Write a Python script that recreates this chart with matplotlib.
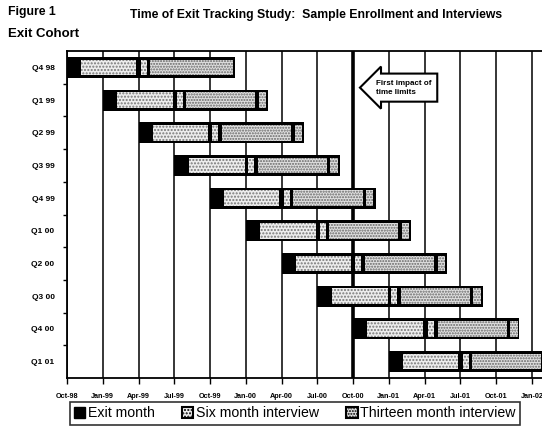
import matplotlib
matplotlib.use("Agg")
import matplotlib.pyplot as plt
from matplotlib.patches import Patch

# ---- data ----
cohorts = ['Q4 98', 'Q1 99', 'Q2 99', 'Q3 99', 'Q4 99',
           'Q1 00', 'Q2 00', 'Q3 00', 'Q4 00', 'Q1 01']
# cohort start, months since Oct-98
cohort_start = [0, 3, 6, 9, 12, 15, 18, 21, 24, 27]
# segment offsets / lengths in months relative to cohort start
exit_len = [1.1, 1.1, 1.1, 1.1, 1.1, 1.1, 1.1, 1.1, 1.1, 1.1]
six_off = [1.2, 1.2, 1.2, 1.2, 1.2, 1.2, 1.2, 1.2, 1.2, 1.2]
six_len = [4.6, 4.7, 4.6, 4.7, 4.6, 4.7, 4.6, 4.7, 4.7, 4.6]
six_b_off = [6.2, 6.2, 6.2, 6.2, 6.2, 6.2, 6.2, 6.2, 6.3, 6.2]
six_b_len = [0.5, 0.5, 0.5, 0.5, 0.5, 0.5, 0.5, 0.5, 0.5, 0.5]
thr_off = [7.0, 7.0, 7.0, 7.0, 7.0, 7.0, 7.0, 7.0, 7.1, 7.0]
thr_len = [6.9, 5.8, 5.8, 5.8, 5.8, 5.8, 5.8, 5.8, 5.8, 5.8]
thr_b_off = [13.9, 13.1, 13.1, 13.1, 13.1, 13.1, 13.1, 13.1, 13.2, 13.1]
thr_b_len = [0.0, 0.6, 0.6, 0.6, 0.6, 0.6, 0.6, 0.6, 0.6, 0.6]
bar_total = [14.1, 13.9, 13.9, 13.9, 13.9, 13.9, 13.9, 13.9, 13.9, 13.9]

tick_months = [0, 3, 6, 9, 12, 15, 18, 21, 24, 27, 30, 33, 36, 39]
tick_labels = ['Oct-98', 'Jan-99', 'Apr-99', 'Jul-99', 'Oct-99', 'Jan-00', 'Apr-00',
               'Jul-00', 'Oct-00', 'Jan-01', 'Apr-01', 'Jul-01', 'Oct-01', 'Jan-02']
impact_month = 24

FONT = 'Liberation Sans'
plt.rcParams['font.family'] = [FONT, 'DejaVu Sans']
plt.rcParams['hatch.linewidth'] = 1.0

fig = plt.figure(figsize=(5.42, 4.28), dpi=100)
ax = fig.add_axes([67/542, 1-378/428, 475/542, (378-51)/428])

ys = list(range(len(cohorts)))
H = 0.64
h_in = 0.48

# gridlines
for m in tick_months:
    lw = 2.6 if m == impact_month else 1.1
    ax.axvline(m, color='black', lw=lw, zorder=1)

left = [s for s in cohort_start]
ax.barh(ys, bar_total, left=left, height=H, color='black', zorder=3)
ax.barh(ys, six_len, left=[s + o for s, o in zip(cohort_start, six_off)], height=h_in,
        color='#ededed', edgecolor='#777777', hatch='.....', lw=0, zorder=4)
ax.barh(ys, six_b_len, left=[s + o for s, o in zip(cohort_start, six_b_off)], height=h_in,
        color='#ededed', edgecolor='#777777', hatch='.....', lw=0, zorder=4)
ax.barh(ys, thr_len, left=[s + o for s, o in zip(cohort_start, thr_off)], height=h_in,
        color='#e0e0e0', edgecolor='#666666', hatch='......', lw=0, zorder=4)
ax.barh(ys, thr_b_len, left=[s + o for s, o in zip(cohort_start, thr_b_off)], height=h_in,
        color='#e0e0e0', edgecolor='#666666', hatch='......', lw=0, zorder=4)

ax.set_xlim(0, 39.85)
ax.set_ylim(len(cohorts) - 0.5, -0.5)

ax.set_xticks(tick_months)
ax.set_xticklabels(tick_labels, fontsize=5.2, fontweight='bold')
ax.tick_params(axis='x', direction='out', length=4, width=1, pad=7)

ax.set_yticks(ys)
ax.set_yticklabels(cohorts, fontsize=6, fontweight='bold')
ax.tick_params(axis='y', which='major', length=0, pad=9)
ax.set_yticks([y + 0.5 for y in ys[:-1]], minor=True)
ax.tick_params(axis='y', which='minor', direction='out', length=3, width=1)

for side in ['top', 'bottom', 'left']:
    ax.spines[side].set_linewidth(1.3)
ax.spines['right'].set_visible(False)

ax.text(25.9, 0.62, 'First impact of\ntime limits', fontsize=5.8, fontweight='bold',
        ha='left', va='center', zorder=6, linespacing=1.4,
        bbox=dict(boxstyle='larrow,pad=0.75', fc='white', ec='black', lw=1.5))

fig.text(8/542, 1-12/428, 'Figure 1', fontsize=8.8, fontweight='bold', va='center')
fig.text(130/542, 1-15/428,
         'Time of Exit Tracking Study:  Sample Enrollment and Interviews',
         fontsize=8.8, fontweight='bold', va='center')
fig.text(8/542, 1-34/428, 'Exit Cohort', fontsize=9.5, fontweight='bold', va='center')

handles = [Patch(facecolor='black', edgecolor='black'),
           Patch(facecolor='#ededed', edgecolor='black', hatch='.....', lw=1.5),
           Patch(facecolor='#e0e0e0', edgecolor='black', hatch='......', lw=1.5)]
leg = fig.legend(handles, ['Exit month', 'Six month interview', 'Thirteen month interview'],
                 loc='upper center', bbox_to_anchor=(295/542, 1-395/428), ncol=3,
                 fontsize=10.2, frameon=True, fancybox=False, edgecolor='black',
                 handlelength=0.8, handleheight=0.8, handletextpad=0.2,
                 columnspacing=1.9, borderpad=0.3)
leg.get_frame().set_linewidth(1.2)

fig.savefig('out.png', dpi=100)
